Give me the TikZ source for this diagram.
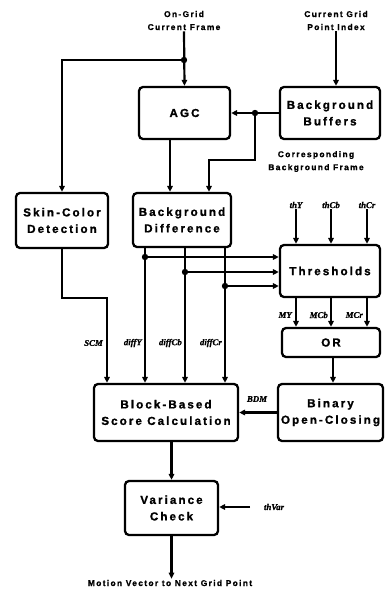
\documentclass[tikz,border=0pt]{standalone}
\usepackage{fontspec}
\usetikzlibrary{arrows.meta}
\newfontfamily\bxfont[LetterSpace=18,FakeBold=1.2]{Liberation Sans}
\newfontfamily\smfont[LetterSpace=16,FakeBold=1.0]{Liberation Sans}
\newfontfamily\lblfont[FakeBold=0.8]{Liberation Serif}
\tikzset{
  blk/.style={draw, line width=2.3pt, rounded corners=4pt, align=center, inner sep=0pt,
    font=\bxfont\bfseries\fontsize{11.6}{16.5}\selectfont},
  small/.style={align=center, inner sep=1pt, font=\smfont\bfseries\fontsize{8.4}{13}\selectfont},
  ital/.style={inner sep=1pt, font=\lblfont\bfseries\itshape\fontsize{8.8}{10}\selectfont},
  arr/.style={line width=2.2pt, -{Triangle[length=6pt,width=5.5pt]}},
  dot/.style={fill=black}
}
\begin{document}
\begin{tikzpicture}[x=1pt,y=-1pt]
\useasboundingbox[fill=white] (0,0) rectangle (385,590);
% boxes
\node[blk, minimum width=91pt, minimum height=52pt] (agc) at (184.5,113) {AGC};
\node[blk, minimum width=100pt, minimum height=52pt] (bb) at (330,113) {Background\\Buffers};
\node[blk, minimum width=92pt, minimum height=55pt] (skin) at (62,220.5) {Skin-Color\\Detection};
\node[blk, minimum width=98pt, minimum height=54pt] (bgd) at (182,220) {Background\\Difference};
\node[blk, minimum width=100pt, minimum height=52pt] (thr) at (330,271) {Thresholds};
\node[blk, minimum width=98pt, minimum height=29pt] (or) at (331,342.5) {OR};
\node[blk, minimum width=144pt, minimum height=57pt] (block) at (166,412.5) {Block-Based\\Score Calculation};
\node[blk, minimum width=105pt, minimum height=57pt] (bin) at (330.5,412.5) {Binary\\Open-Closing};
\node[blk, minimum width=93pt, minimum height=54pt] (var) at (171.5,508) {Variance\\Check};
% text labels
\node[small] (top1) at (184,20.5) {On-Grid\\Current Frame};
\node[small] (top2) at (336,20.5) {Current Grid\\Point Index};
\node[small] (cbf) at (316,161.5) {Corresponding\\Background Frame};
\node[small] (out) at (170,583) {Motion Vector to Next Grid Point};
\node[ital] (thy) at (296,205) {thY};
\node[ital] (thcb) at (331,205) {thCb};
\node[ital] (thcr) at (367,205) {thCr};
\node[ital, anchor=east] (my) at (293,315) {MY};
\node[ital, anchor=east] (mcb) at (329,315) {MCb};
\node[ital, anchor=east] (mcr) at (364,315) {MCr};
\node[ital, anchor=east] (scm) at (104,343) {SCM};
\node[ital, anchor=east] (dy) at (143,343) {diffY};
\node[ital, anchor=east] (dcb) at (183,343) {diffCb};
\node[ital, anchor=east] (dcr) at (223,343) {diffCr};
\node[ital] (bdm) at (257,399) {BDM};
\node[ital] (thvar) at (274,507) {thVar};
% coordinates
\coordinate (dtop) at (184,60);
\coordinate (dbb) at (255,113);
\coordinate (bfx) at (209,160);
\coordinate (ax) at (170,0);
\coordinate (d1) at (145,257);
\coordinate (d2) at (185,272);
\coordinate (d3) at (225,286);
\coordinate (sk) at (107,298);
\coordinate (orx) at (333,0);
\coordinate (tv) at (250,507);
% connectors
\draw[arr] (top1.south) -- (agc.north);
\draw[arr] (dtop) -| (skin.north);
\fill[dot] (dtop) circle (3.2pt);
\draw[arr] (top2.south) -- (top2.south |- bb.north);
\draw[arr] (bb.west) -- (agc.east);
\draw[arr] (dbb) |- (bfx) -- (bfx |- bgd.north);
\fill[dot] (dbb) circle (3.2pt);
\draw[arr] (agc.south -| ax) -- (bgd.north -| ax);
\draw[arr] (skin.south) |- (sk) -- (sk |- block.north);
\foreach \d in {d1,d2,d3}{
  \draw[arr] (bgd.south -| \d) -- (block.north -| \d);
  \draw[arr] (\d) -- (\d -| thr.west);
  \fill[dot] (\d) circle (3.2pt);
}
\foreach \t in {thy,thcb,thcr}{
  \draw[arr] (\t.south) -- (\t.south |- thr.north);
  \draw[arr] (thr.south -| \t) -- (or.north -| \t);
}
\draw[arr] (or.south -| orx) -- (bin.north -| orx);
\draw[arr] (bin.west) -- (block.east);
\draw[arr] (block.south -| var.north) -- (var.north);
\draw[arr] (tv) -- (tv -| var.east);
\draw[arr] (var.south) -- (var.south |- out.north);
\end{tikzpicture}
\end{document}
